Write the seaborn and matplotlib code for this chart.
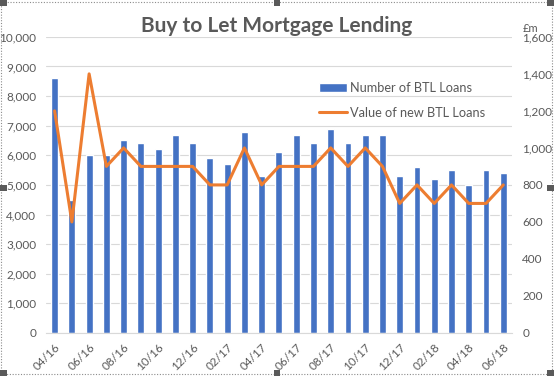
import numpy as np
import matplotlib
matplotlib.use("Agg")
import matplotlib.pyplot as plt
import seaborn as sns
from matplotlib.patches import Patch, Rectangle
from matplotlib.lines import Line2D
from matplotlib.ticker import FuncFormatter, FixedLocator

# Monthly buy-to-let figures, 04/16 .. 06/18
months = ["04/16", "05/16", "06/16", "07/16", "08/16", "09/16", "10/16", "11/16", "12/16",
          "01/17", "02/17", "03/17", "04/17", "05/17", "06/17", "07/17", "08/17", "09/17",
          "10/17", "11/17", "12/17", "01/18", "02/18", "03/18", "04/18", "05/18", "06/18"]
num_loans = [8600, 4500, 6000, 6000, 6500, 6400, 6200, 6700, 6400,
             5900, 5700, 6800, 5300, 6100, 6700, 6400, 6900, 6400,
             6700, 6700, 5300, 5600, 5200, 5500, 5000, 5500, 5400]
value_gbp_m = [1200, 600, 1400, 900, 1000, 900, 900, 900, 900,
               800, 800, 1000, 800, 900, 900, 900, 1000, 900,
               1000, 900, 700, 800, 700, 800, 700, 700, 800]

bar_col = "#4472C4"
line_col = "#ED7D31"
txt_col = "#595959"
grid_col = "#D9D9D9"

sns.set_style("white")
plt.rcParams["font.family"] = ["Lato", "DejaVu Sans"]

fig = plt.figure(figsize=(5.54, 3.76), dpi=100)
ax = fig.add_axes([0.083, 0.1144, 0.841, 0.7876])

sns.barplot(x=months, y=num_loans, color=bar_col, saturation=1, width=0.4, ax=ax)
ax.set_ylim(0, 10000)
ax.set_yticks(np.arange(0, 10001, 1000))
ax.yaxis.set_major_formatter(FuncFormatter(lambda v, p: f"{int(v):,}"))
ax.grid(axis="y", color=grid_col, linewidth=0.8)
ax.set_axisbelow(True)
ax.set_xlim(-0.5, len(months) - 0.5)
ax.set_xlabel("")
ax.set_ylabel("")

# labels every 2 months, tick marks on category boundaries
ax.set_xticks(range(0, len(months), 2))
ax.set_xticklabels(months[::2], rotation=45, ha="right", rotation_mode="anchor")
ax.xaxis.set_minor_locator(FixedLocator(np.arange(-0.5, len(months), 2)))
ax.tick_params(axis="x", which="major", length=0, pad=6, labelsize=8.5, labelcolor=txt_col)
ax.tick_params(axis="x", which="minor", length=4, color=grid_col, width=0.8)
ax.tick_params(axis="y", length=0, pad=7, labelsize=8.5, labelcolor=txt_col)
for s in ["top", "left", "right"]:
    ax.spines[s].set_visible(False)
ax.spines["bottom"].set_color(grid_col)

ax2 = ax.twinx()
sns.lineplot(x=np.arange(len(months)), y=value_gbp_m, color=line_col, linewidth=2.2, ax=ax2)
ax2.set_ylim(0, 1600)
ax2.set_yticks(np.arange(0, 1601, 200))
ax2.yaxis.set_major_formatter(FuncFormatter(lambda v, p: f"{int(v):,}"))
ax2.tick_params(axis="y", length=0, pad=7.5, labelsize=8.5, labelcolor=txt_col)
for lab in ax2.get_yticklabels():
    lab.set_ha("left")
for s in ax2.spines.values():
    s.set_visible(False)
ax2.set_xlim(-0.5, len(months) - 0.5)

fig.text(0.5, 0.93, "Buy to Let Mortgage Lending", ha="center", va="center",
         fontsize=15, fontweight="bold", color=txt_col)
fig.text(0.972, 0.925, "£m", ha="right", va="center", fontsize=8, color=txt_col)

handles = [Patch(facecolor=bar_col), Line2D([], [], color=line_col, linewidth=2.2)]
fig.legend(handles, ["Number of BTL Loans", "Value of new BTL Loans"],
           loc="upper left", bbox_to_anchor=(0.555, 0.812), frameon=False,
           fontsize=9.2, labelcolor=txt_col, handlelength=2.2, handletextpad=0.25,
           labelspacing=1.0)

# dotted chart border with selection handles
fig.add_artist(Rectangle((0.002, 0.004), 0.994, 0.992, transform=fig.transFigure,
                         fill=False, edgecolor="#8C8C8C", linestyle=(0, (1, 1.5)), linewidth=0.8))
for hx, hy in [(0, 0), (0.5, 0), (1, 0), (0, 0.5), (1, 0.5), (0, 1), (0.5, 1), (1, 1)]:
    fig.add_artist(Rectangle((hx * 0.988, hy * 0.985), 0.012, 0.015,
                             transform=fig.transFigure, facecolor="#5A5A5A", edgecolor="none"))

fig.savefig("out.png", dpi=100)
